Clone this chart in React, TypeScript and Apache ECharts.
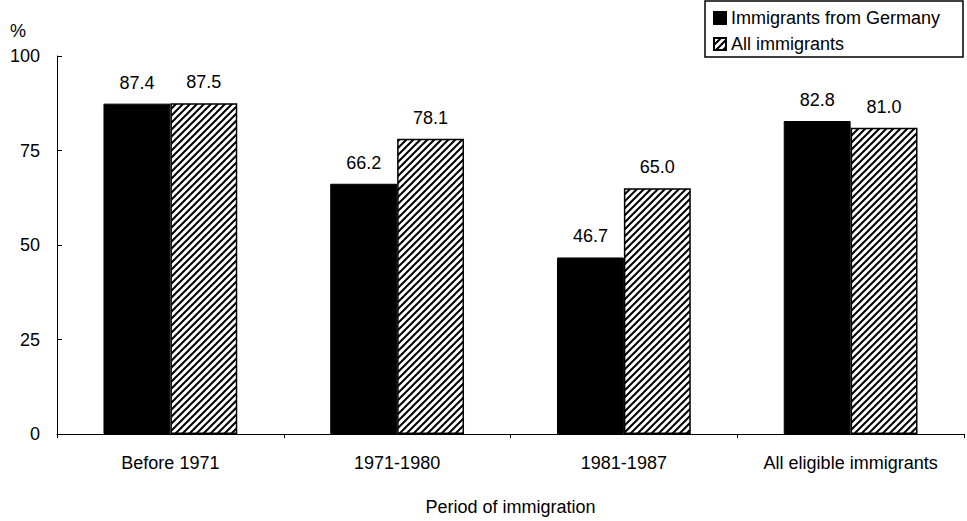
import React, { useEffect, useRef } from "react";
import * as echarts from "echarts";

const categories = ["Before 1971", "1971-1980", "1981-1987", "All eligible immigrants"];
const germany = [87.4, 66.2, 46.7, 82.8];
const allImmigrants = [87.5, 78.1, 65.0, 81.0];
const yTicks = [0, 25, 50, 75, 100];

const FONT = "'Liberation Sans', Arial, sans-serif";
const FS = 18;

const hatchSvg =
  "<svg xmlns='http://www.w3.org/2000/svg' width='7' height='7'>" +
  "<rect width='7' height='7' fill='white'/>" +
  "<path d='M-1,8 L8,-1 M-2,2 L2,-2 M5,9 L9,5' stroke='black' stroke-width='2'/>" +
  "</svg>";
const hatchUrl = "data:image/svg+xml;charset=utf-8," + encodeURIComponent(hatchSvg);

export default function App() {
  const ref = useRef<HTMLDivElement>(null);
  useEffect(() => {
    document.body.style.margin = "0";
    const chart = echarts.init(ref.current!, undefined, { renderer: "svg" });
    const labelCfg = {
      show: true,
      position: "top" as const,
      distance: 12,
      color: "#000",
      fontSize: FS,
      fontFamily: FONT,
      formatter: (p: any) => Number(p.value).toFixed(1),
    };
    chart.setOption({
      animation: false,
      backgroundColor: "#fff",
      textStyle: { fontFamily: FONT },
      grid: { left: 57, right: 3, top: 56, bottom: 79, containLabel: false },
      legend: {
        orient: "vertical",
        left: 713,
        top: 9,
        itemWidth: 12,
        itemHeight: 12,
        itemGap: 8,
        padding: 0,
        textStyle: { fontSize: FS, color: "#000", fontFamily: FONT },
        data: [
          { name: "Immigrants from Germany", icon: "rect" },
          { name: "All immigrants", icon: "rect" },
        ],
      },
      graphic: [
        {
          type: "rect",
          shape: { x: 705, y: 1, width: 258, height: 56 },
          style: { fill: "none", stroke: "#000", lineWidth: 1.5 },
          silent: true,
        },
        {
          type: "text",
          left: 10,
          top: 22,
          style: { text: "%", fontSize: FS, fontFamily: FONT, fill: "#000" },
        },
      ],
      xAxis: {
        type: "category",
        data: categories,
        name: "Period of immigration",
        nameLocation: "middle",
        nameGap: 64,
        nameTextStyle: { fontSize: FS, color: "#000", fontFamily: FONT },
        axisLine: { lineStyle: { color: "#000", width: 1 } },
        axisTick: { show: true, length: 4, lineStyle: { color: "#000" } },
        axisLabel: { color: "#000", fontSize: FS, margin: 20, fontFamily: FONT },
      },
      yAxis: {
        type: "value",
        min: yTicks[0],
        max: yTicks[yTicks.length - 1],
        interval: 25,
        axisLine: { show: true, lineStyle: { color: "#000", width: 1 } },
        axisTick: { show: true, inside: true, length: 5, lineStyle: { color: "#000" } },
        axisLabel: { color: "#000", fontSize: FS, margin: 17, fontFamily: FONT },
        splitLine: { show: false },
      },
      series: [
        {
          name: "Immigrants from Germany",
          type: "bar",
          data: germany,
          barGap: "0%",
          barCategoryGap: "41%",
          itemStyle: { color: "#000", borderColor: "#000", borderWidth: 1 },
          label: labelCfg,
        },
        {
          name: "All immigrants",
          type: "bar",
          data: allImmigrants,
          barGap: "0%",
          barCategoryGap: "41%",
          itemStyle: {
            color: { image: hatchUrl, repeat: "repeat" },
            borderColor: "#000",
            borderWidth: 1.5,
          },
          label: labelCfg,
        },
      ],
    });
    return () => chart.dispose();
  }, []);
  return (
    <div
      ref={ref}
      style={{ position: "absolute", left: 0, top: 0, width: 967, height: 521 }}
    />
  );
}
